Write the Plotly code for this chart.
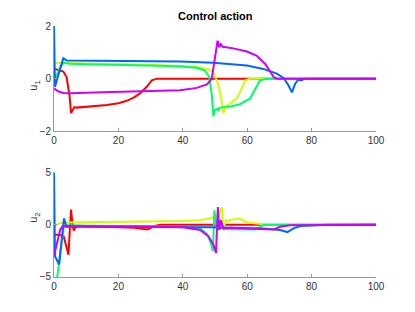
import plotly.graph_objects as go

# ---- u1 (top panel) ----
t_red_u1 = [0, 0.3, 2.9, 3.9, 4.8, 5.3, 5.8, 6.3, 7, 10, 16.4, 20, 22.6, 25, 26.7, 28.8, 30.4, 32, 50, 100]
v_red_u1 = [0.38, 0.37, 0.27, 0.06, -0.62, -1.31, -1.17, -1.08, -1.1, -1.07, -1.0, -0.93, -0.84, -0.7, -0.56, -0.31, -0.06, 0, 0, 0]

t_yel_u1 = [0, 3, 10, 20, 30, 40, 44, 46.5, 48, 49.5, 51.1, 52.1, 52.6, 53.4, 54.7, 56.8, 58.3, 59.4, 61, 100]
v_yel_u1 = [0.6, 0.6, 0.58, 0.56, 0.53, 0.48, 0.45, 0.41, 0.36, 0.25, -0.25, -0.87, -1.31, -1.06, -0.94, -0.75, -0.37, -0.06, 0, 0]

t_grn_u1 = [0, 1, 2, 3, 5, 10, 20, 33, 39.2, 44.3, 46.9, 48.2, 49, 49.5, 50, 50.6, 51, 51.4, 54.7, 57.8, 60.9, 63, 64, 66.1, 100]
v_grn_u1 = [-0.1, 0.15, 0.45, 0.6, 0.57, 0.55, 0.53, 0.49, 0.46, 0.41, 0.31, 0.06, -0.62, -1.43, -1.18, -1.15, -1.2, -1.1, -1.06, -0.97, -0.75, -0.25, -0.06, 0, 0]

t_blu_u1 = [0, 0.3, 1.5, 2.9, 3.9, 10, 20, 33, 39.2, 49.5, 59.9, 65, 69.2, 71.3, 72.8, 73.9, 74.9, 75.9, 76.7, 78, 100]
v_blu_u1 = [2.0, -0.31, 0.2, 0.78, 0.69, 0.68, 0.67, 0.66, 0.65, 0.6, 0.5, 0.37, 0.19, 0.03, -0.25, -0.52, -0.19, -0.03, -0.07, 0, 0]

t_mag_u1 = [0, 1.5, 3, 5, 15, 33, 39.2, 44.3, 47.5, 49, 50, 50.8, 51.3, 51.8, 52.4, 55.7, 59.9, 63, 65.6, 67.1, 68.2, 69.2, 100]
v_mag_u1 = [-0.37, -0.5, -0.54, -0.55, -0.52, -0.47, -0.44, -0.35, -0.22, 0, 0.75, 1.44, 1.19, 1.31, 1.21, 1.15, 1.03, 0.87, 0.56, 0.25, 0.06, 0, 0]

# ---- u2 (bottom panel) ----
t_red_u2 = [0, 1.5, 3, 3.8, 4.5, 4.9, 5.3, 5.7, 6.1, 7, 15, 25, 29, 31, 33, 100]
v_red_u2 = [-0.97, -0.95, -1.1, -2.0, -2.86, -0.5, 1.45, 0.2, -0.55, -0.1, -0.2, -0.3, -0.45, -0.15, 0, 0]

t_yel_u2 = [0, 1.5, 3, 10, 30, 40, 45.4, 48.5, 49.5, 50.6, 51.3, 52.1, 52.6, 53.4, 54, 54.7, 57.3, 58.3, 59.4, 62, 66.1, 100]
v_yel_u2 = [-0.19, 0.13, 0.22, 0.25, 0.28, 0.35, 0.44, 0.6, 0.75, 0.9, 1.0, 1.7, -0.35, 0.44, 0.28, 0.44, 0.6, 0.5, 0.28, 0.13, 0.03, 0]

t_grn_u2 = [0, 1, 2, 3, 4, 10, 30, 40, 45.4, 47.5, 48.7, 49.3, 49.6, 49.8, 50.6, 52, 55, 60, 62.5, 65, 100]
v_grn_u2 = [-6.5, -5.0, -2.5, -0.3, -0.05, -0.1, -0.15, -0.2, -0.35, -0.88, -1.76, -2.5, -0.5, 1.39, -0.5, -0.35, -0.44, -0.44, -0.45, -0.03, 0]

t_blu_u2 = [0, 0.3, 1.6, 2.3, 3.1, 3.9, 10, 30, 49.5, 65, 70.2, 72.5, 74.4, 76.5, 80.6, 85, 100]
v_blu_u2 = [5.0, -3.0, -3.8, -2.0, 0.6, -0.19, -0.2, -0.22, -0.25, -0.35, -0.5, -0.7, -0.35, -0.12, -0.03, 0, 0]

t_mag_u2 = [0, 1.9, 2.7, 10, 30, 40, 45.4, 48, 49.5, 50.3, 50.9, 51.3, 51.8, 52.6, 55, 59.9, 65, 68.2, 70.2, 73.3, 100]
v_mag_u2 = [-3.0, -0.5, -0.12, -0.12, -0.18, -0.25, -0.5, -1.13, -1.9, -2.7, 1.7, -0.5, 0.44, -0.35, -0.3, -0.35, -0.4, -0.45, -0.19, -0.06, 0]

x_ticks = [0, 20, 40, 60, 80, 100]
y1_ticks = [-2, 0, 2]
y2_ticks = [-5, 0, 5]

colors = ["#FF0000", "#CCFF00", "#00FF66", "#0066FF", "#CC00FF"]

top = [(t_red_u1, v_red_u1), (t_yel_u1, v_yel_u1), (t_grn_u1, v_grn_u1), (t_blu_u1, v_blu_u1), (t_mag_u1, v_mag_u1)]
bot = [(t_red_u2, v_red_u2), (t_yel_u2, v_yel_u2), (t_grn_u2, v_grn_u2), (t_blu_u2, v_blu_u2), (t_mag_u2, v_mag_u2)]

fig = go.Figure()
for (t, v), c in zip(top, colors):
    fig.add_trace(go.Scatter(x=t, y=v, mode="lines", line=dict(color=c, width=2), xaxis="x", yaxis="y", showlegend=False))
for (t, v), c in zip(bot, colors):
    fig.add_trace(go.Scatter(x=t, y=v, mode="lines", line=dict(color=c, width=2), xaxis="x2", yaxis="y2", showlegend=False))

FONT = "Liberation Sans, Arial, sans-serif"
axis_common = dict(showgrid=False, zeroline=False, showline=True, linecolor="#9a9a9a", linewidth=1,
                   ticks="inside", ticklen=3, tickcolor="#9a9a9a", mirror=False,
                   tickfont=dict(family=FONT, size=10, color="#333333"))

PLOT_H = 255
fig.update_layout(
    width=399, height=296,
    margin=dict(l=46, r=31, t=15, b=26),
    paper_bgcolor="white", plot_bgcolor="white",
    xaxis=dict(domain=[0, 1], range=[0, 100], tickvals=x_ticks, anchor="y", **axis_common),
    yaxis=dict(domain=[0.5804, 1], range=[-2, 2], tickvals=y1_ticks, anchor="x", **axis_common),
    xaxis2=dict(domain=[0, 1], range=[0, 100], tickvals=x_ticks, anchor="y2", **axis_common),
    yaxis2=dict(domain=[0, 0.4165], range=[-5, 5], tickvals=y2_ticks, anchor="x2", **axis_common),
    annotations=[
        dict(text="<b>Control action</b>", x=0.5, y=1 + 10 / PLOT_H, yanchor="middle", xref="paper", yref="paper",
             showarrow=False, font=dict(family=FONT, size=11, color="black")),
        dict(text="u<sub>1</sub>", x=-0.09, y=0.79, xref="paper", yref="paper", showarrow=False, textangle=-90,
             font=dict(family=FONT, size=11, color="#333333")),
        dict(text="u<sub>2</sub>", x=-0.09, y=0.208, xref="paper", yref="paper", showarrow=False, textangle=-90,
             font=dict(family=FONT, size=11, color="#333333")),
    ],
)
fig.write_html("out.html")
